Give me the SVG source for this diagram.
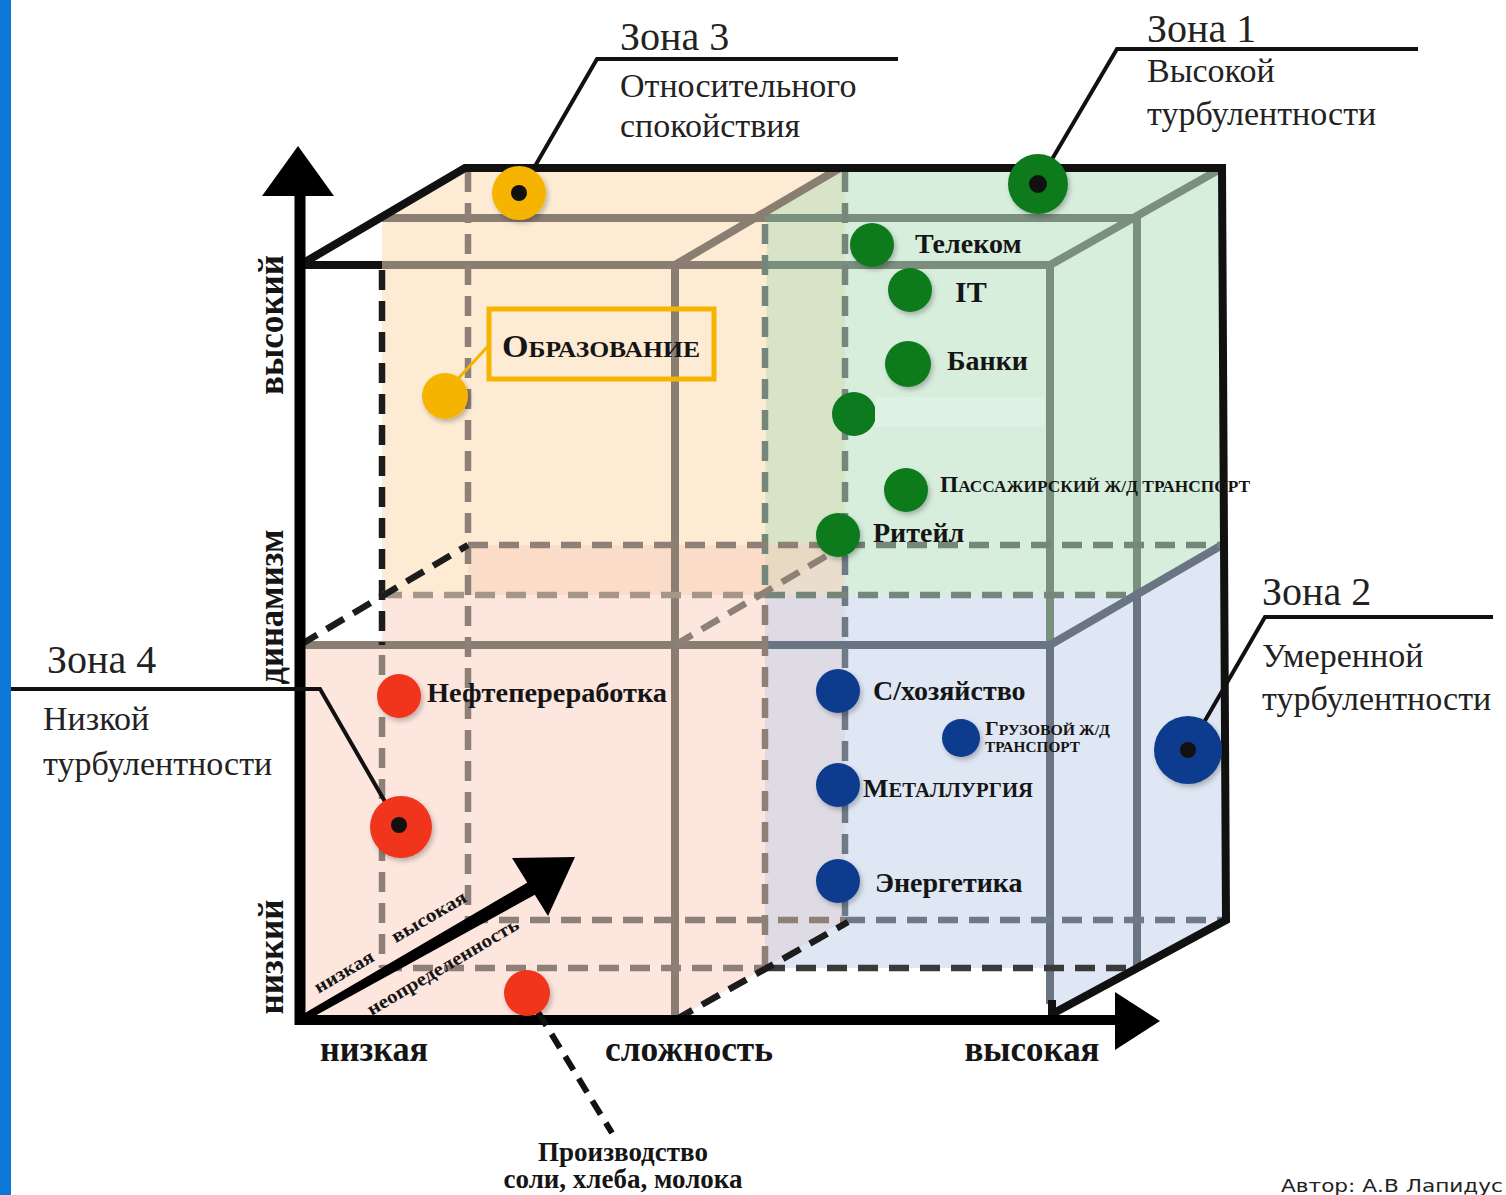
<svg xmlns="http://www.w3.org/2000/svg" width="1506" height="1195" viewBox="0 0 1506 1195">
<defs>
<style>
.zt{font-family:"Liberation Serif","Times New Roman",serif;fill:#222}
.z{font-size:40px}
.zs{font-size:34px}
.lb{font-family:"Liberation Serif","Times New Roman",serif;font-weight:bold;fill:#151515;font-size:28px}
.ax{font-family:"Liberation Serif","Times New Roman",serif;font-weight:bold;fill:#151515;font-size:35px}
.ar{font-family:"Liberation Serif","Times New Roman",serif;font-weight:bold;fill:#151515;font-size:19px}
.k{stroke:#111;stroke-width:8;fill:none;stroke-linejoin:miter}
.kd{stroke:#1c1c1c;stroke-width:6.5;fill:none;stroke-dasharray:20 11}
.br{stroke:#8a7d72;stroke-width:8;fill:none}
.brd{stroke:#8e8076;stroke-width:6.5;fill:none;stroke-dasharray:20 11}
.brl{stroke:#a69689;stroke-width:6.5;fill:none;stroke-dasharray:20 11}
.gr{stroke:#7b8f7e;stroke-width:8;fill:none}
.grd{stroke:#74877a;stroke-width:6.5;fill:none;stroke-dasharray:20 11}
.bl{stroke:#6a7583;stroke-width:8;fill:none}
.bld{stroke:#6f7a88;stroke-width:6.5;fill:none;stroke-dasharray:20 11}
.dk{stroke:#3a3a3a;stroke-width:6.5;fill:none;stroke-dasharray:20 11}
.ld{stroke:#111;stroke-width:4;fill:none}
.y{fill:#f6b400}
.g{fill:#0c7a1f}
.b{fill:#0c3b8e}
.r{fill:#f0341a}
.c{fill:#111}
.f{fill-opacity:0.5;stroke:none}
</style>
<filter id="sh" x="-40%" y="-40%" width="180%" height="180%"><feDropShadow dx="2" dy="3" stdDeviation="2.5" flood-color="#000" flood-opacity="0.25"/></filter>
<clipPath id="cut"><rect x="820" y="380" width="55" height="70"/></clipPath>
</defs>
<rect x="0" y="0" width="1506" height="1195" fill="#fff"/>
<rect x="0" y="0" width="11" height="1195" fill="#0b77d9"/>

<g id="fills">
<polygon class="f" fill="#fbd7a7" points="382,218 465,170 845,168 845,545 765,595 382,595"/>
<polygon class="f" fill="#b1ddbb" points="767,210 840,168 1222,168 1222,545 1137,595 765,595"/>
<polygon class="f" fill="#f9cdbd" points="300,645 382,645 382,595 468,595 468,545 845,545 845,920 765,968 675,1020 300,1020"/>
<polygon class="f" fill="#bfcfe9" points="765,595 1137,595 1222,545 1222,920 1058,1010 1050,1010 1050,968 765,968"/>
</g>

<g id="grid">
<line class="br" x1="382" y1="218" x2="765" y2="218"/>
<line class="gr" x1="765" y1="218" x2="1137" y2="218"/>
<line class="br" x1="382" y1="265" x2="765" y2="265"/>
<line class="gr" x1="765" y1="265" x2="1050" y2="265"/>
<line class="br" x1="675" y1="265" x2="840" y2="168"/>
<line class="gr" x1="1050" y1="265" x2="1222" y2="168"/>
<line class="br" x1="675" y1="265" x2="675" y2="1020"/>
<line class="gr" x1="1050" y1="265" x2="1050" y2="645"/>
<line class="bl" x1="1050" y1="645" x2="1050" y2="1004"/>
<line class="gr" x1="1137" y1="218" x2="1137" y2="595"/>
<line class="bl" x1="1137" y1="595" x2="1137" y2="968"/>
<line class="br" x1="300" y1="645" x2="765" y2="645"/>
<line class="bl" x1="765" y1="645" x2="1050" y2="645"/>
<line class="bl" x1="1050" y1="645" x2="1222" y2="545"/>
<line class="brd" x1="468" y1="172" x2="468" y2="920"/>
<line class="kd" x1="382" y1="270" x2="382" y2="645"/>
<line class="brd" x1="382" y1="655" x2="382" y2="968"/>
<line class="grd" x1="765" y1="224" x2="765" y2="595"/>
<line class="brd" x1="765" y1="605" x2="765" y2="968"/>
<line class="grd" x1="845" y1="172" x2="845" y2="545"/>
<line class="bld" x1="845" y1="555" x2="845" y2="920"/>
<line class="brd" x1="468" y1="545" x2="845" y2="545"/>
<line class="grd" x1="845" y1="545" x2="1222" y2="545"/>
<line class="brl" x1="382" y1="595" x2="765" y2="595"/>
<line class="grd" x1="765" y1="595" x2="1137" y2="595"/>
<line class="brd" x1="468" y1="920" x2="845" y2="920"/>
<line class="bld" x1="845" y1="920" x2="1222" y2="920"/>
<line class="brd" x1="382" y1="968" x2="765" y2="968"/>
<line class="dk" x1="765" y1="968" x2="1137" y2="968"/>
<line class="brd" x1="675" y1="645" x2="845" y2="545"/>
<line class="kd" x1="300" y1="645" x2="468" y2="545"/>
<line class="kd" x1="675" y1="1020" x2="848" y2="922"/>
<polyline class="k" points="300,265 382,265"/>
<polyline class="k" points="300,265 465,168 1222,168 1226,920 1054,1013"/>
<line class="k" x1="1052" y1="1000" x2="1052" y2="1020"/>
<line stroke="#000" stroke-width="11" x1="300" y1="1025" x2="300" y2="190"/>
<polygon fill="#000" points="298,146 262,196 334,196"/>
<line stroke="#000" stroke-width="10" x1="295" y1="1020" x2="1125" y2="1020"/>
<polygon fill="#000" points="1115,992 1160,1021 1115,1050"/>
<polygon fill="#000" points="298,1017 530,881 538,893 302,1023"/>
<polygon fill="#000" points="512,858 575,857 548,916"/>
</g>

<g id="axis-labels">
<text class="ax" transform="translate(283,325) rotate(-90)" text-anchor="middle" textLength="140" lengthAdjust="spacingAndGlyphs">высокий</text>
<text class="ax" transform="translate(283,607) rotate(-90)" text-anchor="middle" textLength="155" lengthAdjust="spacingAndGlyphs">динамизм</text>
<text class="ax" transform="translate(283,957) rotate(-90)" text-anchor="middle" textLength="115" lengthAdjust="spacingAndGlyphs">низкий</text>
<text class="ax" x="374" y="1061" text-anchor="middle" textLength="108" lengthAdjust="spacingAndGlyphs">низкая</text>
<text class="ax" x="689" y="1061" text-anchor="middle" textLength="168" lengthAdjust="spacingAndGlyphs">сложность</text>
<text class="ax" x="1032" y="1061" text-anchor="middle" textLength="135" lengthAdjust="spacingAndGlyphs">высокая</text>
<text class="ar" transform="translate(347,977) rotate(-30.5)" text-anchor="middle" textLength="66" lengthAdjust="spacingAndGlyphs">низкая</text>
<text class="ar" transform="translate(432,922) rotate(-30.5)" text-anchor="middle" textLength="84" lengthAdjust="spacingAndGlyphs">высокая</text>
<text class="ar" transform="translate(446,972) rotate(-30.5)" text-anchor="middle" textLength="173" lengthAdjust="spacingAndGlyphs">неопределенность</text>
</g>

<g id="connectors">
<polyline class="ld" points="898,59 597,59 520,192"/>
<polyline class="ld" points="1418,49 1117,49 1038,183"/>
<polyline class="ld" points="1493,617 1265,617 1188,750"/>
<polyline class="ld" points="11,689 320,689 399,826"/>
<line stroke="#f6b400" stroke-width="3" x1="455" y1="382" x2="490" y2="344"/>
<line stroke="#111" stroke-width="6" stroke-dasharray="16 10" x1="538" y1="1012" x2="612" y2="1133"/>
</g>

<g id="zone3">
<circle class="y" cx="519" cy="193" r="27" filter="url(#sh)"/>
<circle class="c" cx="519" cy="193" r="8"/>
<text class="zt z" x="620" y="50">Зона 3</text>
<text class="zt zs" x="620" y="97">Относительного</text>
<text class="zt zs" x="620" y="137">спокойствия</text>
</g>
<g id="zone1">
<circle class="g" cx="1038" cy="184" r="30" filter="url(#sh)"/>
<circle class="c" cx="1038" cy="184" r="9"/>
<text class="zt z" x="1147" y="42">Зона 1</text>
<text class="zt zs" x="1147" y="82">Высокой</text>
<text class="zt zs" x="1147" y="125">турбулентности</text>
</g>
<g id="zone2">
<circle class="b" cx="1188" cy="750" r="34" filter="url(#sh)"/>
<circle class="c" cx="1188" cy="750" r="8"/>
<text class="zt z" x="1262" y="605">Зона 2</text>
<text class="zt zs" x="1262" y="667">Умеренной</text>
<text class="zt zs" x="1262" y="710">турбулентности</text>
</g>
<g id="zone4">
<circle class="r" cx="401" cy="827" r="31" filter="url(#sh)"/>
<circle class="c" cx="399" cy="825" r="8"/>
<text class="zt z" x="47" y="673">Зона 4</text>
<text class="zt zs" x="43" y="730">Низкой</text>
<text class="zt zs" x="43" y="775">турбулентности</text>
</g>

<g id="education">
<circle class="y" cx="445" cy="396" r="23" filter="url(#sh)"/>
<rect x="489" y="309" width="225" height="70" fill="none" stroke="#f6b400" stroke-width="5"/>
<text class="lb" x="502" y="357" style="font-size:24px" textLength="198" lengthAdjust="spacingAndGlyphs"><tspan style="font-size:32px">О</tspan>БРАЗОВАНИЕ</text>
</g>

<g id="telecom"><circle class="g" cx="872" cy="245" r="22" filter="url(#sh)"/><text class="lb" x="915" y="253">Телеком</text></g>
<g id="it"><circle class="g" cx="910" cy="290" r="22" filter="url(#sh)"/><text class="lb" x="955" y="302" style="font-size:30px">IT</text></g>
<g id="banks"><circle class="g" cx="908" cy="364" r="23" filter="url(#sh)"/><text class="lb" x="947" y="370">Банки</text></g>
<g id="blank"><circle class="g" cx="854" cy="414" r="22" clip-path="url(#cut)"/><rect x="875" y="397" width="170" height="30" fill="#fff" fill-opacity="0.18"/></g>
<g id="passenger"><circle class="g" cx="906" cy="490" r="22" filter="url(#sh)"/><text class="lb" x="940" y="492" style="font-size:17px" textLength="310" lengthAdjust="spacingAndGlyphs"><tspan style="font-size:23px">П</tspan>АССАЖИРСКИЙ Ж/Д ТРАНСПОРТ</text></g>
<g id="retail"><circle class="g" cx="838" cy="535" r="22" filter="url(#sh)"/><text class="lb" x="873" y="542">Ритейл</text></g>

<g id="agri"><circle class="b" cx="838" cy="691" r="22" filter="url(#sh)"/><text class="lb" x="873" y="700">С/хозяйство</text></g>
<g id="cargo"><circle class="b" cx="961" cy="738" r="19" filter="url(#sh)"/><text class="lb" x="985" y="735" style="font-size:14px" textLength="125" lengthAdjust="spacingAndGlyphs"><tspan style="font-size:19px">Г</tspan>РУЗОВОЙ Ж/Д</text><text class="lb" x="985" y="752" style="font-size:14px" textLength="95" lengthAdjust="spacingAndGlyphs">ТРАНСПОРТ</text></g>
<g id="metal"><circle class="b" cx="838" cy="785" r="22" filter="url(#sh)"/><text class="lb" x="863" y="797" style="font-size:20px" textLength="170" lengthAdjust="spacingAndGlyphs"><tspan style="font-size:26px">М</tspan>ЕТАЛЛУРГИЯ</text></g>
<g id="energy"><circle class="b" cx="838" cy="881" r="22" filter="url(#sh)"/><text class="lb" x="875" y="892">Энергетика</text></g>

<g id="oil"><circle class="r" cx="399" cy="696" r="22" filter="url(#sh)"/><text class="lb" x="427" y="702" textLength="240" lengthAdjust="spacingAndGlyphs">Нефтепереработка</text></g>
<g id="production"><circle class="r" cx="527" cy="993" r="23" filter="url(#sh)"/>
<text class="lb" x="623" y="1161" text-anchor="middle" style="font-size:27px">Производство</text>
<text class="lb" x="623" y="1188" text-anchor="middle" style="font-size:27px">соли, хлеба, молока</text></g>

<text x="1281" y="1192" font-family="'DejaVu Sans','Liberation Sans',sans-serif" font-size="17" fill="#222" textLength="222" lengthAdjust="spacingAndGlyphs">Автор: А.В Лапидус</text>
</svg>
